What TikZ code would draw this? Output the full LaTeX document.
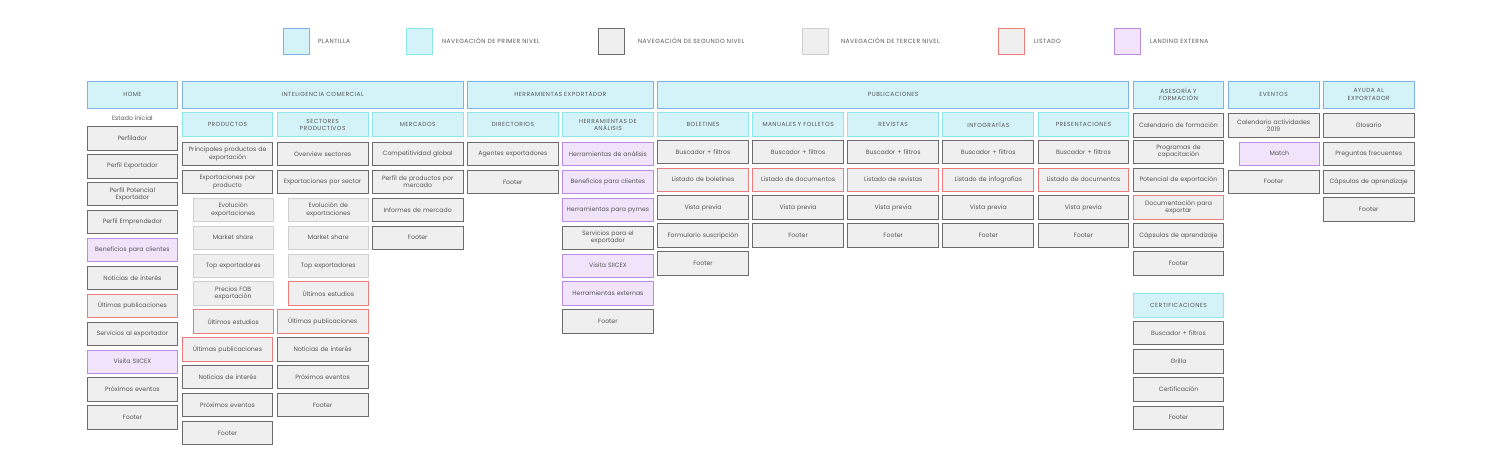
\documentclass[tikz,border=0pt]{standalone}
\usepackage{fontspec}
\setmainfont{Poppins}
\newfontfamily\espaciada{Poppins}[LetterSpace=8]
\definecolor{textogris}{HTML}{555555}
\definecolor{celeste}{HTML}{D4F3F8}
\definecolor{bordeazul}{HTML}{7FB0EA}
\definecolor{bordecian}{HTML}{8CE8E8}
\definecolor{grisfondo}{HTML}{EFEFEF}
\definecolor{grisoscuro}{HTML}{6B6B6B}
\definecolor{grisclaro}{HTML}{CFCFCF}
\definecolor{rojo}{HTML}{EC7B7B}
\definecolor{lila}{HTML}{F1E4FA}
\definecolor{bordelila}{HTML}{B98BE6}
\begin{document}
\begin{tikzpicture}[x=1pt, y=-1pt]
\tikzset{ inner sep=0pt, outer sep=0pt,
  caja/.style={minimum width=90.8pt, minimum height=23.3pt, text width=88pt, align=center,
    line width=0.9pt, text=textogris, font=\fontsize{6.2}{7.4}\selectfont},
  corta/.style={minimum width=79.5pt, text width=77pt},
  plantilla/.style={caja, fill=celeste, draw=bordeazul, minimum height=27pt, font=\espaciada\fontsize{5.9}{7.2}\selectfont},
  nivuno/.style={caja, fill=celeste, draw=bordecian, minimum height=24pt, font=\espaciada\fontsize{5.9}{7.2}\selectfont},
  nivdos/.style={caja, fill=grisfondo, draw=grisoscuro},
  nivtres/.style={caja, fill=grisfondo, draw=grisclaro},
  listado/.style={caja, fill=grisfondo, draw=rojo},
  landing/.style={caja, fill=lila, draw=bordelila},
  muestra/.style={minimum width=26pt, minimum height=26pt, line width=0.9pt},
  leyenda/.style={anchor=west, text=textogris, font=\espaciada\fontsize{6.0}{7}\selectfont},
}
\useasboundingbox (0,0) rectangle (1498,468);
%\draw [lightgray, dashed](0,0) grid (1498,468);

% leyenda
\node [muestra, fill=celeste, draw=bordeazul] (LP) at (296,41) {};
\node [muestra, fill=celeste, draw=bordecian] (LN1) at (419,41) {};
\node [muestra, fill=grisfondo, draw=grisoscuro] (LN2) at (611,41) {};
\node [muestra, fill=grisfondo, draw=grisclaro] (LN3) at (815,41) {};
\node [muestra, fill=grisfondo, draw=rojo] (LL) at (1011,41) {};
\node [muestra, fill=lila, draw=bordelila] (LE) at (1127,41) {};
\node [leyenda] at (318,41) {PLANTILLA};
\node [leyenda] at (442,41) {NAVEGACIÓN DE PRIMER NIVEL};
\node [leyenda] at (638,41) {NAVEGACIÓN DE SEGUNDO NIVEL};
\node [leyenda] at (841,41) {NAVEGACIÓN DE TERCER NIVEL};
\node [leyenda] at (1034,41) {LISTADO};
\node [leyenda] at (1150,41) {LANDING EXTERNA};

% plantillas
\node [plantilla] (HOME) at (132.4,94.5) {HOME};
\node [plantilla, minimum width=281pt, text width=270pt] (IC) at (322.6,94.5) {INTELIGENCIA COMERCIAL};
\node [plantilla, minimum width=185.9pt, text width=180pt] (HE) at (560.35,94.5) {HERRAMIENTAS EXPORTADOR};
\node [plantilla, minimum width=471.2pt, text width=460pt] (PUB) at (893.2,94.5) {PUBLICACIONES};
\node [plantilla] (AF) at (1178.5,94.5) {ASESORÍA Y\\FORMACIÓN};
\node [plantilla] (EV) at (1273.6,94.5) {EVENTOS};
\node [plantilla] (AE) at (1368.7,94.5) {AYUDA AL\\EXPORTADOR};

% home
\node [text=textogris, font=\fontsize{6.2}{7.4}\selectfont] (EI) at (132.4,117.7) {Estado inicial};
\node [nivdos] (H1) at (132.4,138.4) {Perfilador};
\node [nivdos] (H2) at (132.4,166.3) {Perfil Exportador};
\node [nivdos] (H3) at (132.4,194.2) {Perfil Potencial\\Exportador};
\node [nivdos] (H4) at (132.4,222.1) {Perfil Emprendedor};
\node [landing] (H5) at (132.4,250.0) {Beneficios para clientes};
\node [nivdos] (H6) at (132.4,277.9) {Noticias de interés};
\node [listado] (H7) at (132.4,305.8) {Últimas publicaciones};
\node [nivdos] (H8) at (132.4,333.7) {Servicios al exportador};
\node [landing] (H9) at (132.4,361.6) {Visita SIICEX};
\node [nivdos] (H10) at (132.4,389.5) {Próximos eventos};
\node [nivdos] (H11) at (132.4,417.4) {Footer};

% inteligencia comercial
\node [nivuno] (PR) at (227.5,124.7) {PRODUCTOS};
\node [nivdos] (PR1) at (227.5,154.0) {Principales productos de\\exportación};
\node [nivdos] (PR2) at (227.5,181.9) {Exportaciones por\\producto};
\node [nivtres, corta] (PR3) at (233.2,209.8) {Evolución\\exportaciones};
\node [nivtres, corta] (PR4) at (233.2,237.7) {Market share};
\node [nivtres, corta] (PR5) at (233.2,265.6) {Top exportadores};
\node [nivtres, corta] (PR6) at (233.2,293.5) {Precios FOB\\exportación};
\node [listado, corta] (PR7) at (233.2,321.4) {Últimos estudios};
\node [listado] (PR8) at (227.5,349.3) {Últimas publicaciones};
\node [nivdos] (PR9) at (227.5,377.2) {Noticias de interés};
\node [nivdos] (PR10) at (227.5,405.1) {Próximos eventos};
\node [nivdos] (PR11) at (227.5,433.0) {Footer};

\node [nivuno] (SP) at (322.6,124.7) {SECTORES\\PRODUCTIVOS};
\node [nivdos] (SP1) at (322.6,154.0) {Overview sectores};
\node [nivdos] (SP2) at (322.6,181.9) {Exportaciones por sector};
\node [nivtres, corta] (SP3) at (328.3,209.8) {Evolución de\\exportaciones};
\node [nivtres, corta] (SP4) at (328.3,237.7) {Market share};
\node [nivtres, corta] (SP5) at (328.3,265.6) {Top exportadores};
\node [listado, corta] (SP6) at (328.3,293.5) {Últimos estudios};
\node [listado] (SP7) at (322.6,321.4) {Últimas publicaciones};
\node [nivdos] (SP8) at (322.6,349.3) {Noticias de interés};
\node [nivdos] (SP9) at (322.6,377.2) {Próximos eventos};
\node [nivdos] (SP10) at (322.6,405.1) {Footer};

\node [nivuno] (ME) at (417.7,124.7) {MERCADOS};
\node [nivdos] (ME1) at (417.7,154.0) {Competitividad global};
\node [nivdos] (ME2) at (417.7,181.9) {Perfil de productos por\\mercado};
\node [nivdos] (ME3) at (417.7,209.8) {Informes de mercado};
\node [nivdos] (ME4) at (417.7,237.7) {Footer};

% herramientas exportador
\node [nivuno] (DI) at (512.8,124.7) {DIRECTORIOS};
\node [nivdos] (DI1) at (512.8,154.0) {Agentes exportadores};
\node [nivdos] (DI2) at (512.8,181.9) {Footer};

\node [nivuno] (HA) at (607.9,124.7) {HERRAMIENTAS DE\\ANÁLISIS};
\node [landing] (HA1) at (607.9,154.0) {Herramientas de análisis};
\node [landing] (HA2) at (607.9,181.9) {Beneficios para clientes};
\node [landing] (HA3) at (607.9,209.8) {Herramientas para pymes};
\node [nivdos] (HA4) at (607.9,237.7) {Servicios para el\\exportador};
\node [landing] (HA5) at (607.9,265.6) {Visita SIICEX};
\node [landing] (HA6) at (607.9,293.5) {Herramientas externas};
\node [nivdos] (HA7) at (607.9,321.4) {Footer};

% publicaciones
\node [nivuno] (BO) at (703.0,124.7) {BOLETINES};
\node [nivdos] (BO1) at (703.0,151.7) {Buscador + filtros};
\node [listado] (BO2) at (703.0,179.6) {Listado de boletines};
\node [nivdos] (BO3) at (703.0,207.5) {Vista previa};
\node [nivdos] (BO4) at (703.0,235.4) {Formulario suscripción};
\node [nivdos] (BO5) at (703.0,263.3) {Footer};

\node [nivuno] (MF) at (798.1,124.7) {MANUALES Y FOLLETOS};
\node [nivdos] (MF1) at (798.1,151.7) {Buscador + filtros};
\node [listado] (MF2) at (798.1,179.6) {Listado de documentos};
\node [nivdos] (MF3) at (798.1,207.5) {Vista previa};
\node [nivdos] (MF4) at (798.1,235.4) {Footer};

\node [nivuno] (RE) at (893.2,124.7) {REVISTAS};
\node [nivdos] (RE1) at (893.2,151.7) {Buscador + filtros};
\node [listado] (RE2) at (893.2,179.6) {Listado de revistas};
\node [nivdos] (RE3) at (893.2,207.5) {Vista previa};
\node [nivdos] (RE4) at (893.2,235.4) {Footer};

\node [nivuno] (IN) at (988.3,124.7) {INFOGRAFÍAS};
\node [nivdos] (IN1) at (988.3,151.7) {Buscador + filtros};
\node [listado] (IN2) at (988.3,179.6) {Listado de infografías};
\node [nivdos] (IN3) at (988.3,207.5) {Vista previa};
\node [nivdos] (IN4) at (988.3,235.4) {Footer};

\node [nivuno] (PS) at (1083.4,124.7) {PRESENTACIONES};
\node [nivdos] (PS1) at (1083.4,151.7) {Buscador + filtros};
\node [listado] (PS2) at (1083.4,179.6) {Listado de documentos};
\node [nivdos] (PS3) at (1083.4,207.5) {Vista previa};
\node [nivdos] (PS4) at (1083.4,235.4) {Footer};

% asesoria y formacion
\node [nivdos] (AF1) at (1178.5,125.4) {Calendario de formación};
\node [nivdos] (AF2) at (1178.5,151.7) {Programas de\\capacitación};
\node [nivdos] (AF3) at (1178.5,179.6) {Potencial de exportación};
\node [listado] (AF4) at (1178.5,207.5) {Documentación para\\exportar};
\node [nivdos] (AF5) at (1178.5,235.4) {Cápsulas de aprendizaje};
\node [nivdos] (AF6) at (1178.5,263.3) {Footer};

\node [nivuno] (CE) at (1178.5,305.0) {CERTIFICACIONES};
\node [nivdos] (CE1) at (1178.5,333.2) {Buscador + filtros};
\node [nivdos] (CE2) at (1178.5,361.5) {Grilla};
\node [nivdos] (CE3) at (1178.5,389.4) {Certificación};
\node [nivdos] (CE4) at (1178.5,417.7) {Footer};

% eventos
\node [nivdos] (EV1) at (1273.6,125.4) {Calendario actividades\\2019};
\node [landing, corta] (EV2) at (1279.3,153.7) {Match};
\node [nivdos] (EV3) at (1273.6,181.7) {Footer};

% ayuda al exportador
\node [nivdos] (AE1) at (1368.7,125.4) {Glosario};
\node [nivdos] (AE2) at (1368.7,153.7) {Preguntas frecuentes};
\node [nivdos] (AE3) at (1368.7,181.7) {Cápsulas de aprendizaje};
\node [nivdos] (AE4) at (1368.7,209.4) {Footer};

\end{tikzpicture}
\end{document}
